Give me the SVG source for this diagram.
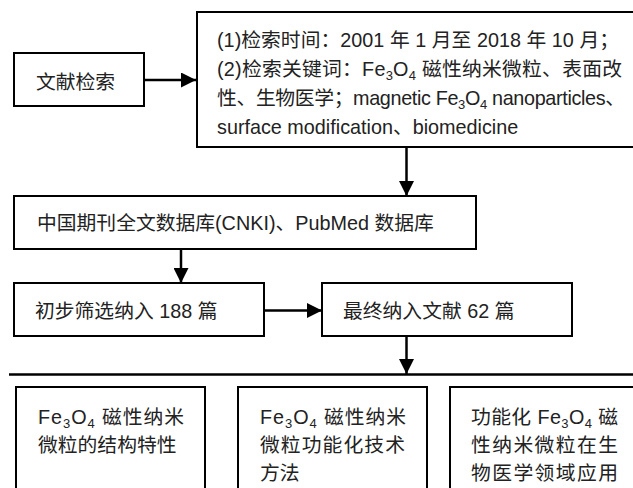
<svg xmlns="http://www.w3.org/2000/svg" width="633" height="488" viewBox="0 0 633 488">
<style>
.box{fill:#fff;stroke:#000;stroke-width:2}
.t{font-family:"Liberation Sans","Noto Sans CJK SC",sans-serif;font-size:19.8px;fill:#222}
.s{font-size:13px}
.c{fill:none;stroke:#000;stroke-width:2.5}
</style>
<defs>
<marker id="ah" markerUnits="userSpaceOnUse" markerWidth="15" markerHeight="15" refX="15" refY="7.5" orient="auto">
<path d="M0,0 L15,7.5 L0,15 z" fill="#000"/>
</marker>
</defs>
<rect width="633" height="488" fill="#fff"/>
<g id="connectors">
<path class="c" d="M144,80 H196" marker-end="url(#ah)"/>
<path class="c" d="M406.5,147 V196" marker-end="url(#ah)"/>
<path class="c" d="M181,249 V283" marker-end="url(#ah)"/>
<path class="c" d="M264,310.5 H322" marker-end="url(#ah)"/>
<path class="c" d="M406.5,336 V374" marker-end="url(#ah)"/>
<path class="c" d="M9,374.5 H633"/>
</g>
<g id="n1">
<rect class="box" x="14" y="53" width="130" height="53"/>
<text class="t" x="36" y="89">文献检索</text>
</g>
<g id="n2">
<rect class="box" x="197" y="12" width="450" height="135"/>
<text class="t" x="217" y="47" textLength="402" lengthAdjust="spacing">(1)检索时间：2001 年 1 月至 2018 年 10 月；</text>
<text class="t" x="217" y="76" textLength="405" lengthAdjust="spacing">(2)检索关键词：Fe<tspan class="s" dy="4">3</tspan><tspan dy="-4">O</tspan><tspan class="s" dy="4">4</tspan><tspan dy="-4"> 磁性纳米微粒、表面改</tspan></text>
<text class="t" x="217" y="105" textLength="408" lengthAdjust="spacing">性、生物医学；magnetic Fe<tspan class="s" dy="4">3</tspan><tspan dy="-4">O</tspan><tspan class="s" dy="4">4</tspan><tspan dy="-4"> nanoparticles、</tspan></text>
<text class="t" x="217" y="134">surface modification、biomedicine</text>
</g>
<g id="n3">
<rect class="box" x="14" y="196" width="462" height="53"/>
<text class="t" x="37" y="230">中国期刊全文数据库(CNKI)、PubMed 数据库</text>
</g>
<g id="n4">
<rect class="box" x="14" y="283" width="250" height="53"/>
<text class="t" x="35" y="318">初步筛选纳入 188 篇</text>
</g>
<g id="n5">
<rect class="box" x="322" y="283" width="250" height="53"/>
<text class="t" x="343" y="318">最终纳入文献 62 篇</text>
</g>
<g id="n6">
<rect class="box" x="16" y="387" width="189" height="110"/>
<text class="t" x="38" y="424" textLength="146" lengthAdjust="spacing">Fe<tspan class="s" dy="4">3</tspan><tspan dy="-4">O</tspan><tspan class="s" dy="4">4</tspan><tspan dy="-4"> 磁性纳米</tspan></text>
<text class="t" x="38" y="452">微粒的结构特性</text>
</g>
<g id="n7">
<rect class="box" x="238" y="387" width="189" height="110"/>
<text class="t" x="260" y="424" textLength="146" lengthAdjust="spacing">Fe<tspan class="s" dy="4">3</tspan><tspan dy="-4">O</tspan><tspan class="s" dy="4">4</tspan><tspan dy="-4"> 磁性纳米</tspan></text>
<text class="t" x="260" y="452" textLength="145" lengthAdjust="spacing">微粒功能化技术</text>
<text class="t" x="260" y="480">方法</text>
</g>
<g id="n8">
<rect class="box" x="450" y="387" width="200" height="110"/>
<text class="t" x="471" y="424" textLength="147" lengthAdjust="spacing">功能化 Fe<tspan class="s" dy="4">3</tspan><tspan dy="-4">O</tspan><tspan class="s" dy="4">4</tspan><tspan dy="-4"> 磁</tspan></text>
<text class="t" x="471" y="452" textLength="147" lengthAdjust="spacing">性纳米微粒在生</text>
<text class="t" x="471" y="480" textLength="147" lengthAdjust="spacing">物医学领域应用</text>
</g>
</svg>
